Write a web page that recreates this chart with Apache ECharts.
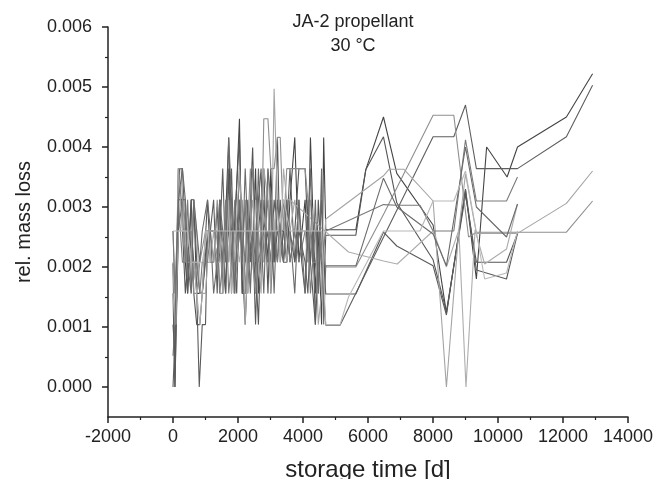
<!DOCTYPE html>
<html><head><meta charset="utf-8">
<script src="https://cdn.jsdelivr.net/npm/echarts@6/dist/echarts.min.js"></script>
<style>html,body{margin:0;padding:0;background:#fff}#c{width:662px;height:479px}</style>
</head><body><div id="c"></div>
<script>
const titleLines = ['JA-2 propellant', '30 °C'];
const xAxisName = 'storage time [d]';
const yAxisName = 'rel. mass loss';
const yMajorTicks = [0, 0.001, 0.002, 0.003, 0.004, 0.005, 0.006];
const yMinorTicks = [0.0005, 0.0015, 0.0025, 0.0035, 0.0045, 0.0055];

const sample1 = [[0,0.00206],[60,0.00000],[165,0.00312],[290,0.00312],[380,0.00208],[450,0.00156],[560,0.00312],[640,0.00312],[730,0.00156],[900,0.00156],[1063,0.00260],[1250,0.00260],[1360,0.00208],[1450,0.00312],[1530,0.00156],[1714,0.00416],[1800,0.00208],[1900,0.00260],[2045,0.00447],[2130,0.00156],[2300,0.00260],[2451,0.00208],[2540,0.00364],[2629,0.00156],[2794,0.00312],[2921,0.00208],[3010,0.00364],[3111,0.00208],[3213,0.00260],[3400,0.00260],[3500,0.00208],[3600,0.00312],[3747,0.00416],[3874,0.00208],[4064,0.00312],[4150,0.00208],[4229,0.00416],[4381,0.00156],[4470,0.00260],[4572,0.00104],[4636,0.00416],[4700,0.00262],[5626,0.00262],[5931,0.00362],[6476,0.00450],[6886,0.00356],[8003,0.00270],[8413,0.00123],[9000,0.00328],[9335,0.00180],[9650,0.00400],[10280,0.00350],[10600,0.00400],[12105,0.00450],[12910,0.00522]];
const sample2 = [[0,0.00104],[60,0.00052],[165,0.00364],[250,0.00312],[380,0.00156],[450,0.00208],[560,0.00312],[640,0.00156],[730,0.00104],[825,0.00104],[900,0.00156],[1063,0.00312],[1150,0.00208],[1250,0.00208],[1360,0.00300],[1435,0.00208],[1530,0.00260],[1620,0.00156],[1714,0.00364],[1800,0.00156],[1880,0.00260],[2045,0.00416],[2130,0.00208],[2222,0.00104],[2300,0.00208],[2451,0.00399],[2540,0.00208],[2629,0.00104],[2710,0.00260],[2794,0.00364],[2921,0.00156],[3010,0.00312],[3111,0.00208],[3213,0.00416],[3300,0.00208],[3500,0.00312],[3600,0.00208],[3747,0.00260],[3874,0.00364],[4064,0.00364],[4150,0.00260],[4229,0.00208],[4381,0.00104],[4470,0.00312],[4572,0.00208],[4636,0.00156],[4700,0.00253],[5626,0.00253],[5931,0.00362],[6476,0.00417],[6886,0.00307],[8003,0.00212],[8413,0.00126],[9000,0.00320],[9335,0.00208],[10262,0.00208],[10600,0.00256]];
const sample3 = [[0,0.00000],[60,0.00000],[120,0.00156],[200,0.00364],[290,0.00364],[380,0.00260],[450,0.00260],[560,0.00208],[640,0.00312],[730,0.00208],[825,0.00156],[900,0.00156],[1000,0.00208],[1063,0.00260],[1250,0.00260],[1360,0.00208],[1450,0.00260],[1530,0.00364],[1620,0.00208],[1714,0.00260],[1800,0.00364],[1900,0.00156],[2045,0.00364],[2130,0.00260],[2222,0.00208],[2300,0.00312],[2380,0.00208],[2451,0.00260],[2540,0.00156],[2629,0.00312],[2710,0.00364],[2794,0.00208],[2921,0.00260],[3010,0.00208],[3111,0.00312],[3213,0.00260],[3400,0.00208],[3500,0.00260],[3600,0.00364],[3747,0.00208],[3874,0.00260],[4064,0.00208],[4150,0.00156],[4229,0.00260],[4381,0.00208],[4470,0.00156],[4572,0.00260],[4636,0.00156],[4700,0.00103],[5140,0.00103],[6533,0.00256],[8003,0.00417],[8640,0.00417],[9000,0.00470],[9335,0.00364],[10600,0.00364],[12105,0.00417],[12910,0.00503]];
const sample4 = [[0,0.00156],[60,0.00000],[165,0.00260],[290,0.00312],[380,0.00312],[450,0.00156],[560,0.00260],[640,0.00208],[730,0.00156],[808,0.00000],[900,0.00104],[1000,0.00104],[1063,0.00260],[1150,0.00260],[1250,0.00312],[1360,0.00156],[1435,0.00312],[1530,0.00208],[1620,0.00156],[1714,0.00312],[1800,0.00260],[1900,0.00208],[1960,0.00156],[2045,0.00312],[2130,0.00156],[2222,0.00156],[2300,0.00208],[2451,0.00260],[2540,0.00104],[2629,0.00260],[2710,0.00312],[2794,0.00260],[2921,0.00312],[3010,0.00156],[3111,0.00260],[3213,0.00208],[3300,0.00312],[3400,0.00208],[3500,0.00208],[3600,0.00260],[3747,0.00208],[3874,0.00312],[3960,0.00208],[4064,0.00156],[4150,0.00312],[4229,0.00208],[4300,0.00260],[4381,0.00104],[4470,0.00208],[4572,0.00312],[4636,0.00208],[4700,0.00155],[5626,0.00155],[6476,0.00258],[6886,0.00235],[8003,0.00202],[8413,0.00120],[9000,0.00330],[9335,0.00195],[10262,0.00180],[10600,0.00256]];
const sample5 = [[0,0.00260],[100,0.00104],[165,0.00364],[250,0.00364],[380,0.00208],[450,0.00260],[560,0.00260],[640,0.00156],[730,0.00156],[825,0.00208],[1000,0.00260],[1150,0.00260],[1250,0.00208],[1360,0.00312],[1435,0.00260],[1530,0.00156],[1620,0.00260],[1714,0.00208],[1800,0.00312],[1900,0.00156],[2045,0.00260],[2130,0.00312],[2222,0.00156],[2300,0.00260],[2380,0.00364],[2451,0.00208],[2540,0.00156],[2629,0.00260],[2710,0.00208],[2794,0.00447],[2921,0.00447],[3010,0.00364],[3111,0.00364],[3213,0.00416],[3300,0.00416],[3400,0.00260],[3500,0.00364],[3600,0.00364],[3747,0.00364],[3874,0.00364],[4064,0.00364],[4150,0.00312],[4229,0.00260],[4300,0.00208],[4381,0.00208],[4470,0.00208],[4572,0.00260],[4700,0.00200],[5626,0.00200],[6500,0.00290],[8003,0.00453],[8640,0.00453],[9094,0.00250],[9335,0.00258],[12105,0.00258],[12910,0.00310]];
const sample6 = [[0,0.00208],[60,0.00104],[165,0.00364],[290,0.00260],[380,0.00260],[450,0.00208],[560,0.00208],[640,0.00312],[730,0.00260],[825,0.00156],[1000,0.00156],[1063,0.00208],[1250,0.00208],[1360,0.00260],[1450,0.00156],[1530,0.00156],[1620,0.00312],[1714,0.00208],[1800,0.00260],[1880,0.00208],[2045,0.00364],[2130,0.00260],[2222,0.00104],[2300,0.00208],[2451,0.00312],[2540,0.00260],[2629,0.00208],[2710,0.00156],[2794,0.00364],[2921,0.00312],[3010,0.00156],[3111,0.00497],[3213,0.00312],[3300,0.00260],[3400,0.00312],[3500,0.00208],[3600,0.00260],[3747,0.00312],[3874,0.00260],[4064,0.00260],[4150,0.00208],[4229,0.00312],[4381,0.00260],[4470,0.00104],[4572,0.00156],[4700,0.00280],[6476,0.00352],[6650,0.00363],[7100,0.00363],[8003,0.00310],[8413,0.00000],[8795,0.00262],[9000,0.00355],[9335,0.00256],[10600,0.00256],[12105,0.00306],[12910,0.00360]];
const sample7 = [[0,0.00260],[60,0.00156],[165,0.00312],[290,0.00208],[380,0.00208],[450,0.00312],[560,0.00156],[640,0.00208],[730,0.00208],[825,0.00156],[900,0.00208],[1063,0.00208],[1150,0.00260],[1250,0.00260],[1360,0.00260],[1435,0.00156],[1530,0.00208],[1620,0.00312],[1714,0.00156],[1800,0.00208],[1900,0.00312],[1960,0.00208],[2045,0.00260],[2130,0.00208],[2222,0.00312],[2300,0.00156],[2380,0.00260],[2451,0.00364],[2540,0.00312],[2629,0.00208],[2794,0.00260],[2921,0.00208],[3010,0.00260],[3111,0.00260],[3213,0.00208],[3300,0.00260],[3400,0.00312],[3500,0.00260],[3600,0.00208],[3747,0.00260],[3874,0.00208],[4064,0.00260],[4150,0.00260],[4229,0.00156],[4300,0.00208],[4381,0.00260],[4470,0.00260],[4572,0.00208],[4700,0.00260],[6476,0.00304],[6886,0.00303],[7600,0.00303],[8003,0.00260],[8640,0.00260],[9000,0.00412],[9335,0.00310],[10262,0.00310],[10600,0.00350]];
const sample8 = [[0,0.00156],[60,0.00104],[165,0.00260],[290,0.00260],[380,0.00312],[450,0.00260],[560,0.00208],[640,0.00208],[730,0.00156],[825,0.00104],[900,0.00156],[1000,0.00260],[1063,0.00260],[1150,0.00208],[1250,0.00260],[1360,0.00208],[1435,0.00208],[1530,0.00260],[1620,0.00208],[1714,0.00312],[1800,0.00156],[1900,0.00260],[2045,0.00208],[2130,0.00260],[2222,0.00260],[2300,0.00156],[2451,0.00208],[2540,0.00312],[2629,0.00260],[2710,0.00260],[2794,0.00208],[2921,0.00364],[3010,0.00260],[3111,0.00260],[3213,0.00312],[3300,0.00208],[3400,0.00364],[3500,0.00312],[3600,0.00312],[5400,0.00225],[6476,0.00210],[6900,0.00205],[8003,0.00260],[8413,0.00200],[8795,0.00262],[9015,0.00000],[9295,0.00262],[9589,0.00205],[10262,0.00230],[10600,0.00305]];
const sample9 = [[0,0.00052],[60,0.00104],[165,0.00312],[290,0.00364],[380,0.00312],[450,0.00208],[560,0.00156],[640,0.00312],[730,0.00260],[825,0.00208],[900,0.00260],[1063,0.00312],[1150,0.00260],[1250,0.00156],[1360,0.00208],[1435,0.00312],[1530,0.00260],[1620,0.00208],[1714,0.00416],[1800,0.00312],[1880,0.00156],[2045,0.00312],[2130,0.00208],[2222,0.00364],[2300,0.00260],[2380,0.00156],[2451,0.00260],[2540,0.00208],[2629,0.00364],[2710,0.00260],[2794,0.00156],[2921,0.00364],[3010,0.00312],[3111,0.00156],[3213,0.00312],[3300,0.00260],[3400,0.00208],[3500,0.00312],[3600,0.00260],[3747,0.00156],[3874,0.00312],[4064,0.00156],[4150,0.00260],[4229,0.00364],[4300,0.00208],[4381,0.00312],[4470,0.00156],[4572,0.00364],[4636,0.00104],[4700,0.00202],[5626,0.00202],[6476,0.00348],[6886,0.00300],[8003,0.00255],[8413,0.00202],[9000,0.00400],[9335,0.00300],[10262,0.00250],[10600,0.00305]];
const sample10 = [[0,0.00260],[165,0.00260],[290,0.00260],[380,0.00260],[450,0.00260],[560,0.00208],[730,0.00208],[900,0.00208],[1063,0.00260],[1250,0.00260],[1360,0.00260],[1530,0.00260],[1714,0.00260],[1900,0.00260],[2045,0.00260],[2222,0.00260],[2451,0.00260],[2629,0.00260],[2794,0.00260],[3010,0.00260],[3213,0.00260],[3400,0.00312],[3600,0.00260],[3874,0.00260],[4064,0.00260],[4229,0.00260],[4381,0.00260],[4572,0.00260],[4700,0.00104],[5140,0.00104],[5400,0.00150],[6476,0.00260],[7600,0.00260],[8003,0.00310],[8640,0.00310],[9000,0.00360],[9589,0.00180],[10262,0.00190],[10600,0.00260]];

const samples = [sample1, sample2, sample3, sample4, sample5, sample6, sample7, sample8, sample9, sample10];
const lineColors = ['#444444','#555555','#5e5e5e','#5a5a5a','#8e8e8e','#a4a4a4','#7a7a7a','#adadad','#6a6a6a','#b8b8b8'];

const font = '"Liberation Sans", Arial, sans-serif';
const chart = echarts.init(document.getElementById('c'), null, {renderer: 'canvas'});
const axisLine = {show: true, onZero: false, lineStyle: {color: '#222', width: 1.5}};
chart.setOption({
  animation: false,
  backgroundColor: '#fff',
  grid: {left: 108, right: 34, top: 27, bottom: 62, containLabel: false, outerBoundsMode: 'none'},
  graphic: [{
    type: 'text', x: 353, y: 10,
    style: {text: titleLines.join('\n'), font: '18px ' + font, fill: '#222', textAlign: 'center', lineHeight: 24}
  }],
  xAxis: {
    type: 'value', min: -2000, max: 14000, interval: 2000,
    name: xAxisName, nameLocation: 'middle', nameGap: 41,
    nameTextStyle: {fontSize: 24, color: '#222', fontFamily: font},
    axisLine: axisLine,
    axisTick: {show: true, inside: false, length: 6, lineStyle: {color: '#222', width: 1.5}},
    minorTick: {show: true, splitNumber: 2, length: 3, lineStyle: {color: '#222', width: 1.2}},
    axisLabel: {fontSize: 18, color: '#222', fontFamily: font, margin: 11, formatter: v => String(v)},
    splitLine: {show: false}, minorSplitLine: {show: false}
  },
  yAxis: [{
    type: 'value', min: -0.0005, max: 0.006,
    name: yAxisName, nameLocation: 'middle', nameGap: 74, nameRotate: 90,
    nameTextStyle: {fontSize: 20, color: '#222', fontFamily: font},
    axisLine: axisLine,
    axisTick: {show: true, inside: false, length: 6, customValues: yMajorTicks, lineStyle: {color: '#222', width: 1.5}},
    axisLabel: {fontSize: 18, color: '#222', fontFamily: font, margin: 16, customValues: yMajorTicks,
      formatter: v => v.toFixed(3)},
    splitLine: {show: false}
  }, {
    type: 'value', min: -0.0005, max: 0.006, position: 'left', offset: 0,
    axisLine: {show: false, onZero: false},
    axisTick: {show: true, inside: false, length: 3, customValues: yMinorTicks, lineStyle: {color: '#222', width: 1.2}},
    axisLabel: {show: false, customValues: yMinorTicks},
    splitLine: {show: false}
  }],
  series: samples.map((s, i) => ({
    type: 'line', data: s, showSymbol: false, symbol: 'none', silent: true,
    lineStyle: {color: lineColors[i], width: 1.1},
    z: 2
  }))
});
</script></body></html>
